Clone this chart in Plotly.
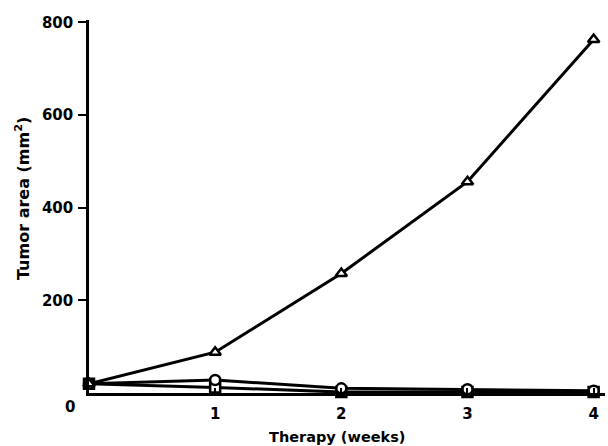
import plotly.graph_objects as go

weeks = [0, 1, 2, 3, 4]
triangle_vals = [20, 88, 258, 456, 763]
circle_vals = [20, 28, 10, 8, 5]
square_vals = [20, 12, 2, 2, 2]

x_ticks = [1, 2, 3, 4]
y_ticks = [200, 400, 600, 800]

font_family = "DejaVu Sans, Arial, sans-serif"

fig = go.Figure()
for vals, sym in [(square_vals, "square"), (circle_vals, "circle"), (triangle_vals, "triangle-up")]:
    fig.add_trace(go.Scatter(
        x=weeks, y=vals, mode="lines+markers",
        line=dict(color="black", width=3),
        marker=dict(symbol=sym, size=10, color="white",
                    line=dict(color="black", width=2.5)),
        showlegend=False, cliponaxis=False,
    ))

fig.update_layout(
    width=608, height=446,
    margin=dict(l=89, r=3, t=20, b=53),
    paper_bgcolor="white", plot_bgcolor="white",
    font=dict(family=font_family, size=15, color="black", weight="bold"),
    xaxis=dict(
        range=[0, 4.09], tickvals=x_ticks, ticktext=[str(t) for t in x_ticks],
        showline=True, linecolor="black", linewidth=2.5,
        ticks="inside", ticklen=5, tickwidth=2, tickcolor="black",
        showgrid=False, zeroline=False, ticklabelstandoff=5, automargin=False,
        tickfont=dict(size=15, family=font_family, weight="bold"),
    ),
    yaxis=dict(
        range=[0, 805], tickvals=y_ticks, ticktext=[str(t) for t in y_ticks],
        showline=True, linecolor="black", linewidth=2.5,
        ticks="outside", ticklen=8, tickwidth=2, tickcolor="black",
        showgrid=False, zeroline=False, ticklabelstandoff=2, automargin=False,
        tickfont=dict(size=15, family=font_family, weight="bold"),
    ),
)

fig.add_annotation(x=0, y=0, xref="x", yref="y", text="0", showarrow=False,
                   xshift=-19, yshift=-14, font=dict(size=15, family=font_family, weight="bold"))
fig.add_annotation(x=0.48, y=-0.118, xref="paper", yref="paper", yanchor="middle",
                   text="Therapy (weeks)", showarrow=False,
                   font=dict(size=14.5, family=font_family, weight="bold"))
fig.add_annotation(x=-67 / 516, y=0.52, xref="paper", yref="paper", textangle=-90,
                   xanchor="center", yanchor="middle",
                   text="Tumor area (mm<sup>2</sup>)", showarrow=False,
                   font=dict(size=16, family=font_family, weight="bold"))

fig.write_html("out.html", config={"displayModeBar": False},
               post_script="document.body.style.margin='0';document.body.style.overflow='hidden';")
